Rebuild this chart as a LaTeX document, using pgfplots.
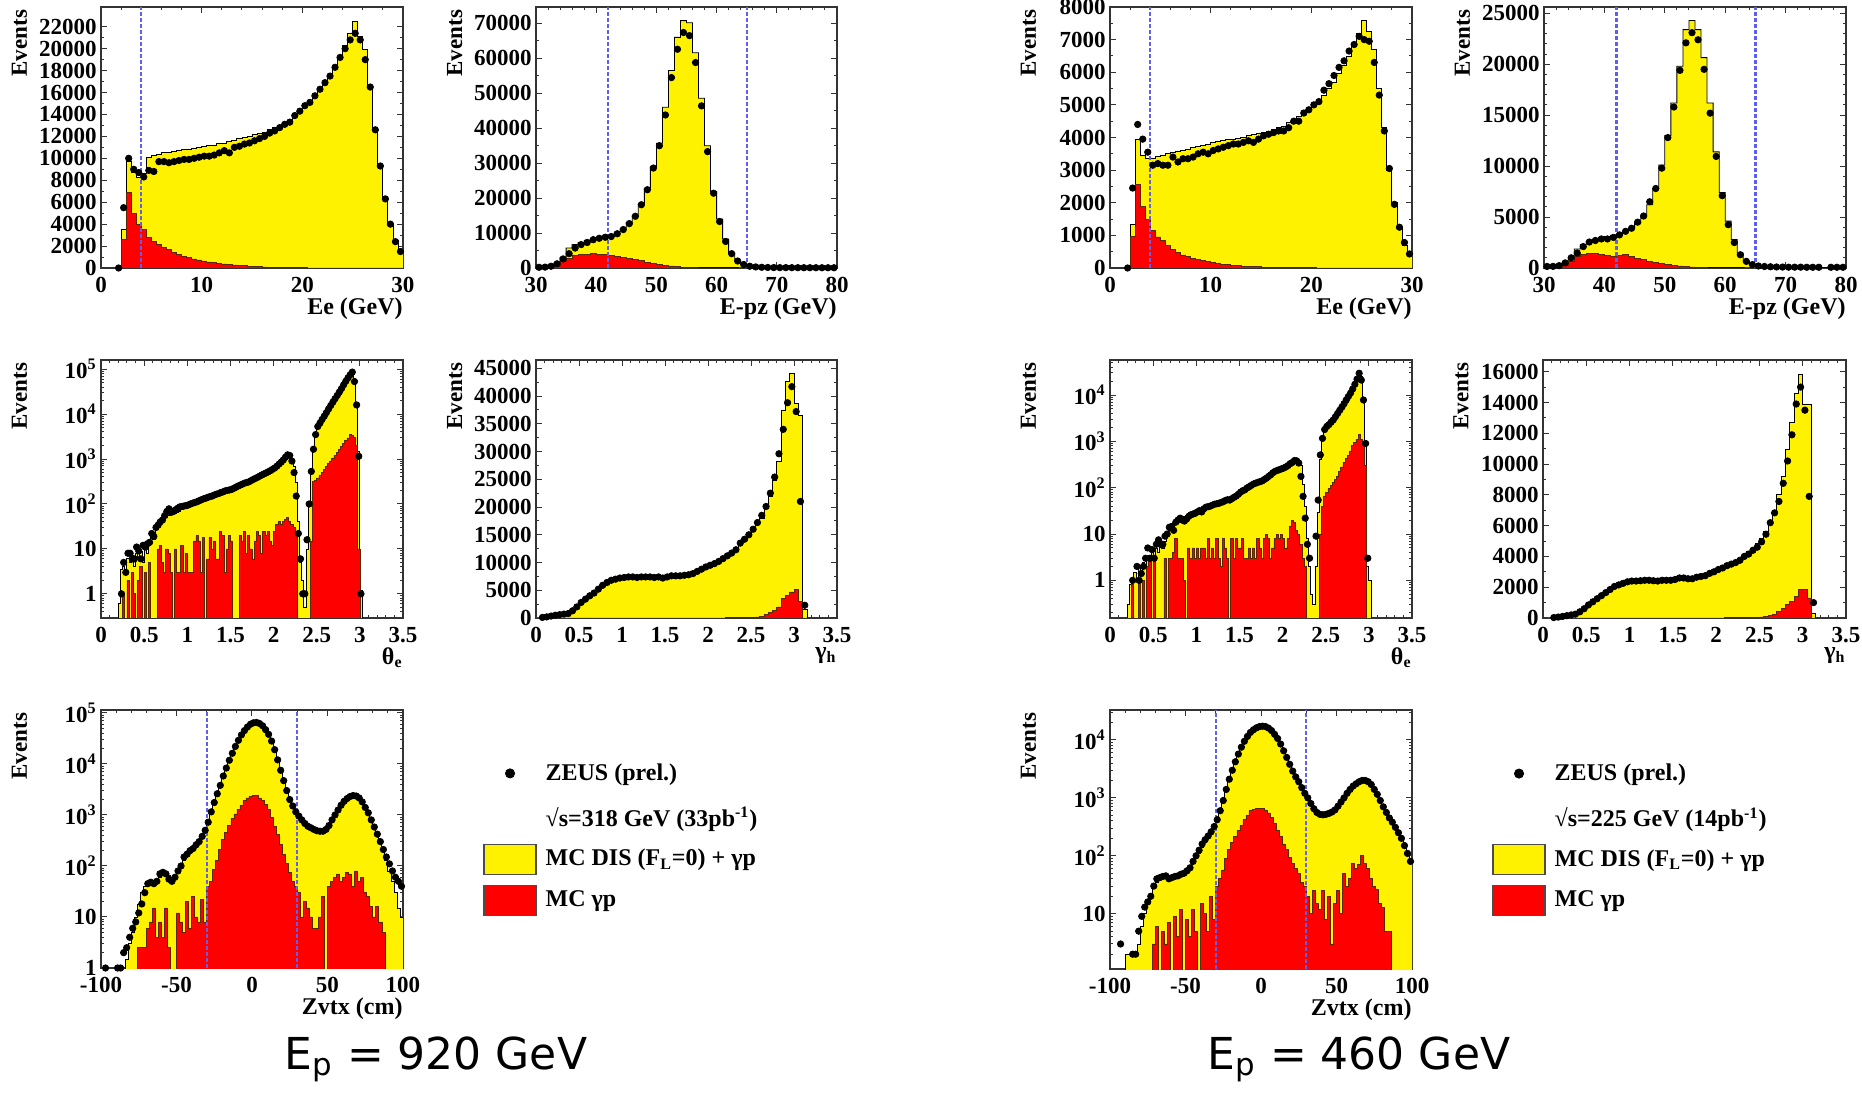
\documentclass[border=0pt]{standalone}
\usepackage{fontspec}
\setmainfont{Liberation Serif}
\newfontfamily\labfont{DejaVu Sans}
\usepackage{pgfplots}
\usepackage{pgfplotstable}
\pgfplotsset{compat=1.18}
\definecolor{cutblue}{RGB}{95,95,240}
\definecolor{redline}{RGB}{90,40,0}
\newcommand{\tf}{\bfseries\fontsize{11.5}{13}\selectfont}
\newcommand{\lf}{\bfseries\fontsize{12}{14}\selectfont}

\pgfplotsset{
  zp/.style={
    scale only axis, width=151pt, height=130.5pt, anchor=south west,
    axis line style={black!80, line width=0.6pt},
    tick align=inside, tick pos=both,
    major tick length=3pt, minor tick length=1.6pt,
    tick style={black!80, line width=0.5pt},
    tick label style={font=\tf},
    /pgf/number format/assume math mode=true,
    /pgf/number format/1000 sep={},
    scaled ticks=false,
    xticklabel style={inner sep=0pt, yshift=-4.5pt},
    yticklabel style={inner sep=0pt, xshift=-2pt},
    ylabel={Events},
    ylabel style={at={(axis description cs:-0.297,0.99)}, anchor=north east, inner sep=0pt, font=\tf},
    xlabel style={at={(axis description cs:1,0)}, anchor=north east, inner sep=0pt, yshift=-14.5pt, font=\lf},
  },
  zleg/.style={legend style={at={(axis description cs:1.265,0.814)}, anchor=north west, draw=none, fill=none, inner sep=0pt, row sep=5pt, font=\lf, cells={anchor=west}, /tikz/every odd column/.append style={column sep=2.5pt}}, legend cell align=left},
  yel/.style={const plot, fill=yellow, draw=black, line width=0.4pt, forget plot},
  rd/.style={const plot, fill=red, draw=redline, line width=0.35pt, forget plot},
  dat/.style={only marks, mark=*, mark size=1.6pt, black, forget plot},
  cut/.style={cutblue, dash pattern=on 1.8pt off 1.2pt, line width=1.1pt, forget plot},
}

% ---------------- Ep = 920 GeV ----------------
\pgfplotstableread{
x g r d
1.5 0 0 0
2.0 3500 2600 5500
2.5 9700 6900 10000
3.0 8700 5000 9000
3.5 8300 4000 8700
4.0 8600 3500 8300
4.5 10100 2800 8900
5.0 10300 2450 8800
5.5 10400 2150 9700
6.0 10500 1900 9700
6.5 10500 1700 9600
7.0 10600 1450 9700
7.5 10700 1250 9800
8.0 10800 1080 9900
8.5 10800 950 9900
9.0 10900 830 10000
9.5 11000 730 10100
10.0 11100 640 10200
10.5 11200 560 10200
11.0 11200 490 10300
11.5 11400 430 10500
12.0 11400 370 10700
12.5 11500 320 10500
13.0 11600 280 11000
13.5 11800 240 11100
14.0 11900 200 11300
14.5 12000 170 11400
15.0 12200 140 11600
15.5 12300 120 11800
16.0 12400 100 12000
16.5 12600 80 12300
17.0 12800 65 12500
17.5 13000 50 12800
18.0 13200 40 13100
18.5 13500 30 13300
19.0 13800 25 13900
19.5 14200 20 14300
20.0 14700 15 14800
20.5 15200 12 15100
21.0 15700 10 15700
21.5 16200 8 16300
22.0 16800 6 16900
22.5 17500 5 17500
23.0 18500 4 18300
23.5 19300 3 19200
24.0 20300 2 20000
24.5 21400 2 20800
25.0 22500 1 21400
25.5 21100 1 20800
26.0 19900 0 19000
26.5 16500 0 16500
27.0 12800 0 12600
27.5 9300 0 9300
28.0 6400 0 6300
28.5 4100 0 4000
29.0 2500 0 2400
29.5 1500 0 1500
30.0 0 0 nan
}\tA

\pgfplotstableread{
x g r d
30 300 0 200
31 500 100 250
32 900 300 500
33 1500 800 1200
34 3000 1800 2600
35 5700 2800 4100
36 6700 3500 5700
37 7300 3900 6700
38 7900 4000 7300
39 8300 4100 8100
40 8700 4000 8500
41 8900 3800 8800
42 9400 3500 9000
43 10300 3300 9800
44 11400 3100 11000
45 13000 2800 12700
46 15000 2500 14800
47 18300 2100 18100
48 22800 1700 22400
49 29000 1400 28600
50 35700 1100 35000
51 46000 800 43800
52 56500 600 54500
53 66000 400 62600
54 70800 250 67400
55 70200 150 66500
56 61600 80 58800
57 48600 40 46400
58 35000 20 33300
59 21900 10 21400
60 14000 5 13300
61 8300 0 7600
62 4300 0 4100
63 1900 0 2000
64 950 0 1000
65 450 0 500
66 250 0 300
67 150 0 200
68 100 0 150
69 80 0 120
70 70 0 100
71 60 0 100
72 60 0 90
73 50 0 90
74 50 0 80
75 50 0 80
76 40 0 80
77 40 0 70
78 40 0 70
79 40 0 70
80 0 0 nan
}\tB

\pgfplotstableread{
x g r d
0.175 0.01 0.01 nan
0.200 0.6 0.01 nan
0.225 3.5 0.01 1
0.250 4 1 5
0.275 3 0.01 3
0.300 6 2 8
0.325 5 0.01 8
0.350 7 3 6
0.375 4 1 6
0.400 8 0.01 11
0.425 6 2 9
0.450 9 4 6
0.475 5 0.01 12
0.500 10 3 11
0.525 8 0.01 13
0.550 12 5 14
0.575 20 0.01 22
0.600 16 0.01 19
0.625 29 0.01 30
0.650 30 10 34
0.675 36 12 40
0.700 40 5 44
0.725 45 3 55
0.750 50 10 68
0.775 55 8 78
0.800 58 3 65
0.825 60 0.01 68
0.850 62 10 74
0.875 66 3 80
0.900 70 3 86
0.925 75 12 88
0.950 80 3 90
0.975 85 8 92
1.000 90 3 95
1.025 95 3 100
1.050 100 3 104
1.075 105 15 108
1.100 110 20 112
1.125 115 15 118
1.150 120 3 124
1.175 128 18 130
1.200 135 0.01 134
1.225 140 6 140
1.250 148 18 146
1.275 152 10 150
1.300 160 15 158
1.325 168 6 165
1.350 175 6 170
1.375 182 25 180
1.400 190 20 185
1.425 198 3 195
1.450 205 10 200
1.475 212 20 205
1.500 220 15 210
1.525 230 0.01 222
1.550 240 0.01 235
1.575 255 0.01 250
1.600 270 20 262
1.625 285 15 275
1.650 300 25 290
1.675 310 8 300
1.700 320 20 310
1.725 335 10 330
1.750 355 6 350
1.775 375 15 370
1.800 400 25 390
1.825 425 20 415
1.850 450 8 440
1.875 480 25 465
1.900 505 20 490
1.925 540 25 520
1.950 575 15 550
1.975 610 12 590
2.000 650 25 630
2.025 700 35 690
2.050 780 40 770
2.075 860 35 850
2.100 960 40 950
2.125 1100 45 1100
2.150 1200 50 1240
2.175 1200 40 1200
2.200 1050 35 900
2.225 700 30 500
2.250 300 20 150
2.275 40 0.01 22
2.300 5 0.01 6
2.325 2 0.01 1
2.350 0.5 0.01 1
2.375 10 0.01 16
2.400 100 0.01 100
2.425 500 15 530
2.450 1700 320 1650
2.475 3500 330 3500
2.500 5500 380 5300
2.525 6500 440 6300
2.550 7800 510 7600
2.575 9300 590 9000
2.600 11000 680 10800
2.625 13200 790 13000
2.650 15800 910 15500
2.675 18800 1060 18500
2.700 22500 1220 22000
2.725 26800 1420 26000
2.750 32000 1640 31000
2.775 38000 1900 37000
2.800 46000 2200 45000
2.825 55000 2550 54000
2.850 65000 2950 64000
2.875 78000 3500 75000
2.900 90000 3400 86000
2.925 60000 3000 53000
2.950 18000 2000 16000
2.975 1500 10 1150
3.000 1.2 0.01 1
3.025 0.01 0.01 nan
}\tC

\pgfplotstableread{
x g r d
0.00 0 0 nan
0.05 150 0 100
0.10 250 0 200
0.15 400 0 350
0.20 550 0 500
0.25 650 0 600
0.30 700 0 700
0.35 900 0 800
0.40 1400 0 1300
0.45 2100 0 2000
0.50 2900 0 2800
0.55 3500 0 3400
0.60 4000 0 4000
0.65 4600 0 4500
0.70 5300 0 5200
0.75 6000 0 5900
0.80 6500 0 6400
0.85 6800 0 6800
0.90 7000 0 7000
0.95 7200 0 7200
1.00 7300 0 7300
1.05 7400 0 7400
1.10 7400 0 7400
1.15 7400 0 7300
1.20 7400 0 7400
1.25 7400 0 7400
1.30 7400 0 7400
1.35 7400 0 7300
1.40 7400 0 7400
1.45 7400 0 7200
1.50 7500 0 7400
1.55 7600 0 7600
1.60 7700 0 7600
1.65 7700 0 7600
1.70 7700 0 7700
1.75 7800 0 7800
1.80 8000 0 8000
1.85 8300 0 8400
1.90 8700 0 8800
1.95 9100 0 9200
2.00 9500 10 9500
2.05 9800 15 9800
2.10 10200 20 10200
2.15 10700 25 10700
2.20 11200 30 11200
2.25 11800 40 11700
2.30 12400 50 12300
2.35 13300 60 13500
2.40 14000 70 14200
2.45 14900 90 15000
2.50 15900 120 16000
2.55 16800 200 17200
2.60 17900 350 18500
2.65 19800 600 20100
2.70 22000 1000 22500
2.75 24800 1400 25400
2.80 28300 2000 29600
2.85 37500 3600 34000
2.90 42600 4100 38800
2.95 44000 4700 41700
3.00 38700 5100 37200
3.05 36500 3000 21000
3.10 1500 0 2300
3.15 0 0 nan
}\tD

\pgfplotstableread{
x g r d
-100 0.01 0.01 nan
-98 0.01 0.01 1
-96 0.01 0.01 nan
-94 0.01 0.01 nan
-92 0.01 0.01 nan
-90 0.01 0.01 1
-88 0.01 0.01 1
-86 0.01 0.01 2
-84 1.5 0.01 2.5
-82 3 0.01 4
-80 5 0.01 6
-78 10 0.01 8
-76 18 2.5 12
-74 30 2.5 18
-72 40 2.5 30
-70 45 6 45
-68 45 8 48
-66 50 15 45
-64 55 4 50
-62 60 8 70
-60 70 4 75
-58 70 15 70
-56 65 2.5 55
-54 60 0.01 50
-52 65 0.01 60
-50 80 12 80
-48 100 8 100
-46 130 5 150
-44 160 20 170
-42 190 6 200
-40 220 25 220
-38 260 10 260
-36 310 8 300
-34 400 22 380
-32 530 8 500
-30 800 40 720
-28 1200 50 1150
-26 1800 85 1750
-24 2700 130 2600
-22 4000 210 3800
-20 6000 330 5800
-18 8500 450 8300
-16 12000 620 11800
-14 16500 850 16200
-12 22000 1050 22000
-10 29000 1300 29000
-8 37000 1550 37000
-6 45000 1900 45000
-4 53000 2150 53000
-2 60000 2350 60000
0 64000 2450 64000
2 65000 2400 65000
4 62000 2150 62000
6 56000 1900 56000
8 47000 1600 47000
10 38000 1300 38000
12 28000 900 28000
14 19000 600 19000
16 12000 420 12000
18 7500 260 7500
20 4700 170 4700
22 3000 110 3000
24 2000 75 2000
26 1500 50 1500
28 1150 40 1150
30 950 30 950
32 800 10 800
34 680 20 680
36 600 15 600
38 560 10 560
40 520 6 520
42 490 6 490
44 480 10 480
46 480 25 480
48 520 0.01 520
50 620 40 620
52 800 50 800
54 1000 60 1000
56 1250 70 1250
58 1550 50 1550
60 1850 60 1850
62 2100 75 2100
64 2300 70 2300
66 2400 40 2400
68 2350 80 2350
70 2150 50 2150
72 1800 60 1800
74 1400 30 1400
76 1100 25 1100
78 800 16 800
80 580 10 580
82 420 16 420
84 300 8 300
86 210 5 210
88 130 0.01 150
90 80 0.01 110
92 50 0.01 80
94 30 0.01 60
96 15 0.01 50
98 10 0.01 40
100 0.01 0.01 nan
}\tE

% ---------------- Ep = 460 GeV ----------------
\pgfplotstableread{
x g r d
1.5 0 0 0
2.0 1330 980 2450
2.5 3930 2550 4400
3.0 3450 1900 3950
3.5 3350 1500 3550
4.0 3350 1150 3150
4.5 3420 950 3200
5.0 3450 850 3150
5.5 3520 700 3150
6.0 3550 580 3400
6.5 3580 480 3250
7.0 3600 400 3350
7.5 3650 350 3350
8.0 3700 300 3400
8.5 3720 260 3500
9.0 3750 220 3550
9.5 3800 190 3500
10.0 3850 160 3600
10.5 3880 140 3650
11.0 3900 120 3700
11.5 3930 100 3750
12.0 3950 90 3800
12.5 3980 75 3800
13.0 4000 60 3850
13.5 4050 50 3900
14.0 4100 40 3850
14.5 4120 35 3950
15.0 4150 30 4050
15.5 4200 25 4100
16.0 4250 20 4150
16.5 4300 18 4200
17.0 4350 15 4200
17.5 4450 12 4300
18.0 4550 10 4500
18.5 4650 8 4500
19.0 4750 6 4750
19.5 4870 5 4850
20.0 5000 5 5000
20.5 5150 4 5100
21.0 5300 3 5450
21.5 5500 2 5650
22.0 5700 2 5900
22.5 5950 1 6150
23.0 6200 1 6350
23.5 6500 0 6650
24.0 6800 0 6850
24.5 7200 0 7100
25.0 7600 0 7000
25.5 7260 0 6950
26.0 6700 0 6300
26.5 5500 0 5300
27.0 4300 0 4200
27.5 3000 0 3050
28.0 2000 0 1950
28.5 1200 0 1250
29.0 700 0 780
29.5 400 0 430
30.0 0 0 nan
}\tF

\pgfplotstableread{
x g r d
30 100 0 150
31 150 0 160
32 250 50 230
33 500 300 500
34 1000 700 1000
35 1860 1150 1470
36 2300 1350 2100
37 2600 1450 2550
38 2800 1400 2700
39 3000 1300 2850
40 3100 1200 2850
41 3200 1150 3000
42 3350 1200 3250
43 3600 1300 3600
44 3950 1100 3900
45 4400 950 4500
46 5200 800 5100
47 6200 650 6500
48 7800 550 7800
49 10100 450 9800
50 13000 350 12800
51 16200 270 15800
52 19800 200 19400
53 23400 140 22100
54 24300 100 23100
55 23400 60 22400
56 20650 30 19500
57 16200 10 15200
58 11400 0 10950
59 7400 0 7100
60 4600 0 4250
61 2800 0 2500
62 1470 0 1300
63 650 0 650
64 300 0 330
65 150 0 200
66 100 0 150
67 80 0 120
68 70 0 100
69 60 0 90
70 60 0 80
71 50 0 80
72 50 0 80
73 50 0 70
74 50 0 70
75 40 0 70
76 40 0 nan
77 40 0 70
78 40 0 70
79 40 0 70
80 0 0 nan
}\tG

\pgfplotstableread{
x g r d
0.175 0.01 0.01 nan
0.200 0.3 0.01 nan
0.225 0.8 0.01 nan
0.250 1 0.8 1
0.275 1.5 0.01 nan
0.300 1 0.01 2
0.325 2 1 1
0.350 1.5 0.01 1.4
0.375 2.5 1 2
0.400 2 0.01 3
0.425 3 2 5
0.450 3 3 3
0.475 4 0.01 4.6
0.500 3 3 3
0.525 5 0.01 6
0.550 4 0.01 7.5
0.575 6 0.01 6
0.600 5 0.01 6
0.625 7 3 9
0.650 10 0.01 10
0.675 12 3 14
0.700 15 3 14.5
0.725 17 4 12
0.750 19 8 18
0.775 20 3 20
0.800 22 3 22
0.825 23 3 20
0.850 24 1 19
0.875 25 0.01 21
0.900 26 5 24
0.925 27 3 26
0.950 28 5 27
0.975 29 3 28
1.000 30 5 30
1.025 31 3 32
1.050 32 5 30
1.075 33 5 35
1.100 35 3 38
1.125 37 8 39
1.150 39 3 40
1.175 40 5 42
1.200 42 3 44
1.225 44 8 45
1.250 46 3 46
1.275 48 2 48
1.300 50 8 50
1.325 52 5 53
1.350 55 3 55
1.375 58 0.01 54
1.400 61 8 58
1.425 64 3 62
1.450 68 8 66
1.475 72 5 72
1.500 77 5 80
1.525 82 8 86
1.550 88 3 90
1.575 94 3 98
1.600 100 5 105
1.625 107 3 112
1.650 115 5 120
1.675 122 3 125
1.700 130 8 130
1.725 138 5 135
1.750 146 3 140
1.775 155 8 150
1.800 165 10 160
1.825 175 8 175
1.850 185 3 190
1.875 195 5 210
1.900 210 8 225
1.925 225 10 235
1.950 240 8 245
1.975 255 10 255
2.000 270 8 265
2.025 290 5 280
2.050 310 8 300
2.075 330 15 330
2.100 355 20 350
2.125 380 18 385
2.150 390 12 380
2.175 370 10 340
2.200 300 6 175
2.225 120 3 65
2.250 40 2 22
2.275 8 0.01 6
2.300 2 0.01 3
2.325 0.5 0.01 nan
2.350 0.3 0.01 nan
2.375 2 0.01 9
2.400 30 0.01 54
2.425 400 10 510
2.450 1200 40 1160
2.475 1800 65 1800
2.500 2100 80 2100
2.525 2400 95 2300
2.550 2700 110 2600
2.575 3100 130 2900
2.600 3600 150 3400
2.625 4200 180 4000
2.650 4900 220 4700
2.675 5800 280 5500
2.700 6800 350 6500
2.725 8000 420 7800
2.750 9500 500 9300
2.775 11200 620 11000
2.800 13500 800 13500
2.825 17000 950 17000
2.850 22000 1100 22000
2.875 30000 1400 29500
2.900 25000 1100 21000
2.925 9000 800 7800
2.950 1000 300 900
2.975 2 0.01 3
3.000 1 0.01 nan
3.025 0.01 0.01 nan
}\tH

\pgfplotstableread{
x g r d
0.05 0 0 nan
0.10 50 0 30
0.15 80 0 60
0.20 120 0 100
0.25 170 0 150
0.30 230 0 200
0.35 300 0 250
0.40 450 0 400
0.45 650 0 600
0.50 900 0 850
0.55 1100 0 1050
0.60 1300 0 1250
0.65 1500 0 1450
0.70 1700 0 1650
0.75 1900 0 1850
0.80 2100 0 2050
0.85 2200 0 2150
0.90 2300 0 2250
0.95 2380 0 2350
1.00 2420 0 2400
1.05 2440 0 2400
1.10 2450 0 2420
1.15 2460 0 2450
1.20 2470 0 2450
1.25 2470 0 2420
1.30 2480 0 2400
1.35 2490 0 2450
1.40 2500 0 2450
1.45 2520 0 2450
1.50 2550 0 2500
1.55 2580 0 2600
1.60 2600 0 2600
1.65 2620 0 2550
1.70 2650 0 2550
1.75 2700 0 2650
1.80 2760 0 2700
1.85 2830 0 2750
1.90 2920 0 2900
1.95 3020 5 3000
2.00 3130 5 3150
2.05 3250 8 3250
2.10 3380 10 3400
2.15 3520 12 3500
2.20 3680 15 3600
2.25 3850 20 3750
2.30 4050 25 4000
2.35 4300 30 4150
2.40 4550 40 4400
2.45 4850 50 4600
2.50 5200 70 4950
2.55 5650 100 5440
2.60 6250 150 6190
2.65 7000 220 6830
2.70 8000 400 7570
2.75 9170 600 8750
2.80 10950 900 10200
2.85 12700 1050 11900
2.90 14600 1400 13900
2.95 15800 1850 15000
3.00 13900 1850 13500
3.05 13900 1300 7900
3.10 300 0 1000
3.15 0 0 nan
}\tI

\pgfplotstableread{
x g r d
-100 0.01 0.01 nan
-98 0.01 0.01 nan
-96 0.01 0.01 nan
-94 0.01 0.01 3
-92 0.01 0.01 nan
-90 2 0.01 nan
-88 2 0.01 nan
-86 2 0.01 2
-84 2 0.01 2
-82 3 0.01 5
-80 6 0.01 9
-78 10 0.01 13
-76 15 0.01 16
-74 20 0.01 20
-72 30 3 30
-70 35 6 40
-68 40 0.01 42
-66 42 5 44
-64 42 3 45
-62 42 7 40
-60 42 0.01 42
-58 40 9 44
-56 42 4 45
-54 44 12 48
-52 46 0.01 50
-50 52 8 55
-48 60 4 62
-46 75 12 80
-44 90 5 100
-42 110 0.01 125
-40 140 15 160
-38 170 10 190
-36 210 5 220
-34 260 20 260
-32 330 8 320
-30 420 30 420
-28 600 40 600
-26 900 57 900
-24 1400 90 1400
-22 2100 127 2100
-20 3000 170 3000
-18 4200 215 4200
-16 5700 270 5700
-14 7500 330 7500
-12 9500 420 9500
-10 11500 500 11500
-8 13500 600 13500
-6 15000 640 15000
-4 16200 660 16200
-2 17000 660 17000
0 17300 660 17300
2 17000 620 17000
4 16000 550 16000
6 14500 460 14500
8 12500 365 12500
10 10600 280 10600
12 8500 215 8500
14 6500 160 6500
16 5000 127 5000
18 3800 95 3800
20 2900 75 2900
22 2300 60 2300
24 1900 50 1900
26 1500 35 1500
28 1200 30 1200
30 1000 20 1000
32 800 10 800
34 650 25 650
36 560 15 560
38 520 12 520
40 510 25 510
42 520 8 520
44 540 20 540
46 570 3 570
48 620 15 620
50 720 25 720
52 850 10 850
54 1000 50 1000
56 1200 30 1200
58 1400 40 1400
60 1600 75 1600
62 1750 60 1750
64 1900 70 1900
66 2000 100 2000
68 2000 75 2000
70 1900 60 1900
72 1700 40 1700
74 1400 30 1400
76 1150 26 1150
78 900 15 900
80 700 13 700
82 560 5 560
84 450 5 450
86 380 0.01 380
88 310 0.01 310
90 250 0.01 250
92 200 0.01 200
94 150 0.01 150
96 110 0.01 110
98 80 0.01 80
100 0.01 0.01 nan
}\tJ

\begin{document}
\begin{tikzpicture}
\useasboundingbox (0,0) rectangle (931pt,546pt);

% ===== A: Ee 920 =====
\begin{axis}[zp, at={(50.5pt,412pt)}, xmin=0, xmax=30, ymin=0, ymax=23800,
  xtick={0,10,20,30}, minor x tick num=4, ytick={0,2000,...,22000}, minor y tick num=1,
  xlabel={Ee (GeV)}]
\addplot[yel] table[x=x,y=g]{\tA} -- cycle;
\addplot[rd] table[x=x,y=r]{\tA} -- cycle;
\addplot[cut] coordinates {(4,0) (4,23800)};
\addplot[dat] table[x expr=\thisrow{x}+0.25,y=d]{\tA};
\end{axis}

% ===== B: E-pz 920 =====
\begin{axis}[zp, at={(268pt,412pt)}, width=150.5pt, xmin=30, xmax=80, ymin=0, ymax=74700,
  xtick={30,40,...,80}, minor x tick num=4, ytick={0,10000,...,70000}, minor y tick num=1,
  xlabel={E-pz (GeV)}]
\addplot[yel] table[x=x,y=g]{\tB} -- cycle;
\addplot[rd] table[x=x,y=r]{\tB} -- cycle;
\addplot[cut] coordinates {(42,0) (42,74700)};
\addplot[cut] coordinates {(65,0) (65,74700)};
\addplot[dat] table[x expr=\thisrow{x}+0.5,y=d]{\tB};
\end{axis}

% ===== C: theta_e 920 =====
\begin{axis}[zp, at={(50.5pt,237pt)}, height=129pt, xmin=0, xmax=3.5, ymode=log, ymin=0.29, ymax=160000,
  xtick={0,0.5,...,3.5}, minor x tick num=4,
  ytick={1,10,100,1000,10000,100000},
  yticklabels={1,10,10\textsuperscript{2},10\textsuperscript{3},10\textsuperscript{4},10\textsuperscript{5}},
  minor ytick={0.3,0.4,0.5,0.6,0.7,0.8,0.9,2,3,4,5,6,7,8,9,20,30,40,50,60,70,80,90,200,300,400,500,600,700,800,900,2000,3000,4000,5000,6000,7000,8000,9000,20000,30000,40000,50000,60000,70000,80000,90000},
  xlabel={θ\textsubscript{e}}]
\addplot[yel] table[x=x,y=g]{\tC} -- cycle;
\addplot[rd] table[x=x,y=r]{\tC} -- cycle;
\addplot[dat] table[x expr=\thisrow{x}+0.0125,y=d]{\tC};
\end{axis}

% ===== D: gamma_h 920 =====
\begin{axis}[zp, at={(268pt,237pt)}, width=150.5pt, height=129pt, xmin=0, xmax=3.5, ymin=0, ymax=46500,
  xtick={0,0.5,...,3.5}, minor x tick num=4, ytick={0,5000,...,45000}, minor y tick num=1,
  xlabel={γ\textsubscript{h}}]
\addplot[yel] table[x=x,y=g]{\tD} -- cycle;
\addplot[rd] table[x=x,y=r]{\tD} -- cycle;
\addplot[dat] table[x expr=\thisrow{x}+0.025,y=d]{\tD};
\end{axis}

% ===== E: Zvtx 920 =====
\begin{axis}[zp, zleg, at={(50.5pt,62pt)}, height=129pt, xmin=-100, xmax=100, ymode=log, ymin=1, ymax=114000,
  xtick={-100,-50,0,50,100}, minor x tick num=4,
  ytick={1,10,100,1000,10000,100000},
  yticklabels={1,10,10\textsuperscript{2},10\textsuperscript{3},10\textsuperscript{4},10\textsuperscript{5}},
  minor ytick={2,3,4,5,6,7,8,9,20,30,40,50,60,70,80,90,200,300,400,500,600,700,800,900,2000,3000,4000,5000,6000,7000,8000,9000,20000,30000,40000,50000,60000,70000,80000,90000},
  xlabel={Zvtx (cm)}]
\addplot[yel] table[x=x,y=g]{\tE} -- cycle;
\addplot[rd] table[x=x,y=r]{\tE} -- cycle;
\addplot[cut] coordinates {(-30,1) (-30,114000)};
\addplot[cut] coordinates {(30,1) (30,114000)};
\addplot[dat] table[x expr=\thisrow{x}+1,y=d]{\tE};
\addlegendimage{legend image code/.code={\fill[black] (13pt,0pt) circle[radius=2.3pt]; \path[draw=none,fill=none] (0pt,-7.5pt) rectangle (26pt,7.5pt);}}
\addlegendentry{ZEUS (prel.)}
\addlegendimage{legend image code/.code={\path[draw=none,fill=none] (0pt,-6.5pt) rectangle (26pt,10pt);}}
\addlegendentry{√s=318 GeV (33pb\textsuperscript{-1})}
\addlegendimage{legend image code/.code={\draw[fill=yellow, draw=black!70, line width=0.6pt] (0pt,-7.5pt) rectangle (26pt,7.5pt);}}
\addlegendentry{MC DIS (F\textsubscript{L}=0) + γp}
\addlegendimage{legend image code/.code={\draw[fill=red, draw=black!70, line width=0.6pt] (0pt,-7.5pt) rectangle (26pt,7.5pt);}}
\addlegendentry{MC γp}
\end{axis}

% ===== F: Ee 460 =====
\begin{axis}[zp, at={(555pt,412pt)}, xmin=0, xmax=30, ymin=0, ymax=8000,
  xtick={0,10,20,30}, minor x tick num=4, ytick={0,1000,...,8000}, minor y tick num=1,
  xlabel={Ee (GeV)}]
\addplot[yel] table[x=x,y=g]{\tF} -- cycle;
\addplot[rd] table[x=x,y=r]{\tF} -- cycle;
\addplot[cut] coordinates {(4,0) (4,8000)};
\addplot[dat] table[x expr=\thisrow{x}+0.25,y=d]{\tF};
\end{axis}

% ===== G: E-pz 460 =====
\begin{axis}[zp, at={(772pt,412pt)}, xmin=30, xmax=80, ymin=0, ymax=25620,
  xtick={30,40,...,80}, minor x tick num=4, ytick={0,5000,...,25000}, minor y tick num=4,
  xlabel={E-pz (GeV)}]
\addplot[yel] table[x=x,y=g]{\tG} -- cycle;
\addplot[rd] table[x=x,y=r]{\tG} -- cycle;
\addplot[cut] coordinates {(42,0) (42,25620)};
\addplot[cut] coordinates {(65,0) (65,25620)};
\addplot[dat] table[x expr=\thisrow{x}+0.5,y=d]{\tG};
\end{axis}

% ===== H: theta_e 460 =====
\begin{axis}[zp, at={(555pt,237pt)}, height=129pt, xmin=0, xmax=3.5, ymode=log, ymin=0.154, ymax=57000,
  xtick={0,0.5,...,3.5}, minor x tick num=4,
  ytick={1,10,100,1000,10000},
  yticklabels={1,10,10\textsuperscript{2},10\textsuperscript{3},10\textsuperscript{4}},
  minor ytick={0.2,0.3,0.4,0.5,0.6,0.7,0.8,0.9,2,3,4,5,6,7,8,9,20,30,40,50,60,70,80,90,200,300,400,500,600,700,800,900,2000,3000,4000,5000,6000,7000,8000,9000,20000,30000,40000,50000},
  xlabel={θ\textsubscript{e}}]
\addplot[yel] table[x=x,y=g]{\tH} -- cycle;
\addplot[rd] table[x=x,y=r]{\tH} -- cycle;
\addplot[dat] table[x expr=\thisrow{x}+0.0125,y=d]{\tH};
\end{axis}

% ===== I: gamma_h 460 =====
\begin{axis}[zp, at={(771.5pt,237pt)}, width=151.5pt, height=129pt, xmin=0, xmax=3.5, ymin=0, ymax=16760,
  xtick={0,0.5,...,3.5}, minor x tick num=4, ytick={0,2000,...,16000}, minor y tick num=1,
  xlabel={γ\textsubscript{h}}]
\addplot[yel] table[x=x,y=g]{\tI} -- cycle;
\addplot[rd] table[x=x,y=r]{\tI} -- cycle;
\addplot[dat] table[x expr=\thisrow{x}+0.025,y=d]{\tI};
\end{axis}

% ===== J: Zvtx 460 =====
\begin{axis}[zp, zleg, at={(555pt,61.5pt)}, height=129.5pt, xmin=-100, xmax=100, ymode=log, ymin=1.11, ymax=32900,
  xtick={-100,-50,0,50,100}, minor x tick num=4,
  ytick={10,100,1000,10000},
  yticklabels={10,10\textsuperscript{2},10\textsuperscript{3},10\textsuperscript{4}},
  minor ytick={2,3,4,5,6,7,8,9,20,30,40,50,60,70,80,90,200,300,400,500,600,700,800,900,2000,3000,4000,5000,6000,7000,8000,9000,20000,30000},
  xlabel={Zvtx (cm)}]
\addplot[yel] table[x=x,y=g]{\tJ} -- cycle;
\addplot[rd] table[x=x,y=r]{\tJ} -- cycle;
\addplot[cut] coordinates {(-30,1.11) (-30,32900)};
\addplot[cut] coordinates {(30,1.11) (30,32900)};
\addplot[dat] table[x expr=\thisrow{x}+1,y=d]{\tJ};
\addlegendimage{legend image code/.code={\fill[black] (13pt,0pt) circle[radius=2.3pt]; \path[draw=none,fill=none] (0pt,-7.5pt) rectangle (26pt,7.5pt);}}
\addlegendentry{ZEUS (prel.)}
\addlegendimage{legend image code/.code={\path[draw=none,fill=none] (0pt,-6.5pt) rectangle (26pt,10pt);}}
\addlegendentry{√s=225 GeV (14pb\textsuperscript{-1})}
\addlegendimage{legend image code/.code={\draw[fill=yellow, draw=black!70, line width=0.6pt] (0pt,-7.5pt) rectangle (26pt,7.5pt);}}
\addlegendentry{MC DIS (F\textsubscript{L}=0) + γp}
\addlegendimage{legend image code/.code={\draw[fill=red, draw=black!70, line width=0.6pt] (0pt,-7.5pt) rectangle (26pt,7.5pt);}}
\addlegendentry{MC γp}
\end{axis}

\node[anchor=base, font=\labfont\fontsize{22}{26}\selectfont, inner sep=0pt] at (218pt,11.5pt) {E\textsubscript{p} = 920 GeV};
\node[anchor=base, font=\labfont\fontsize{22}{26}\selectfont, inner sep=0pt] at (679.5pt,11.5pt) {E\textsubscript{p} = 460 GeV};
\end{tikzpicture}
\end{document}
